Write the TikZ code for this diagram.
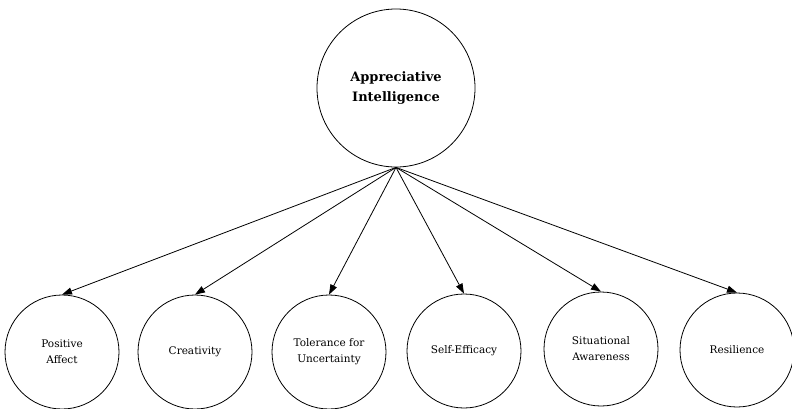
\documentclass[tikz,border=0pt]{standalone}
\usepackage{fontspec}
\setmainfont{DejaVu Serif}
\usetikzlibrary{arrows.meta}

\begin{document}
\begin{tikzpicture}[
    x=1pt, y=-1pt,
    >={Triangle[length=10pt,width=7pt]},
    line width=0.8pt,
    root/.style={draw,
      circle,
      minimum size=158pt,
      inner sep=0pt,
      align=center,
      font=\fontsize{13}{20}\selectfont\bfseries},
    facet/.style={draw,
      circle,
      minimum size=114pt,
      inner sep=0pt,
      align=center,
      font=\fontsize{10.5}{16}\selectfont},
    link/.style={->}
  ]
  \useasboundingbox (0,0) rectangle (792,408);
  \node[root] (AI) at (396,88) {Appreciative\\Intelligence};

  \node[facet] (PA) at (62,352) {Positive\\Affect};
  \node[facet] (CR) at (195,352) {Creativity};
  \node[facet] (TU) at (329,352) {Tolerance for\\Uncertainty};
  \node[facet] (SE) at (464,351) {Self-Efficacy};
  \node[facet] (SA) at (601,349) {Situational\\Awareness};
  \node[facet] (RE) at (737,350) {Resilience};

  \draw[link] (AI.south) -- (PA.north);
  \draw[link] (AI.south) -- (CR.north);
  \draw[link] (AI.south) -- (TU.north);
  \draw[link] (AI.south) -- (SE.north);
  \draw[link] (AI.south) -- (SA.north);
  \draw[link] (AI.south) -- (RE.north);
\end{tikzpicture}
\end{document}
